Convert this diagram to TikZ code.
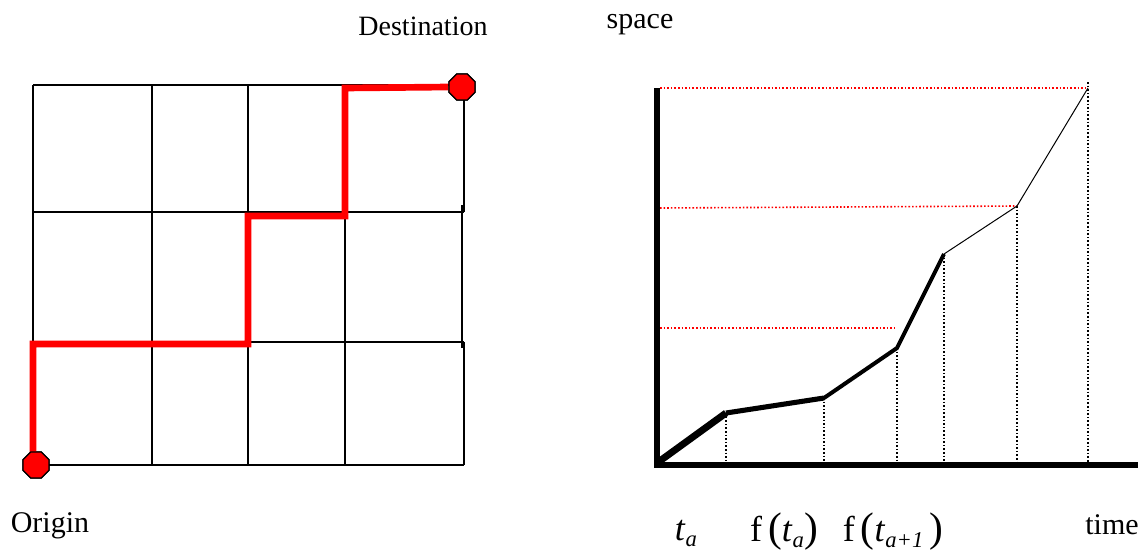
\documentclass[tikz,border=0pt]{standalone}
\usepackage{fontspec}
\setmainfont{Liberation Serif}
\usetikzlibrary{shapes.geometric}
\newcommand{\sublbl}[1]{\raisebox{-0.4ex}{\fontsize{17pt}{19pt}\selectfont\textit{#1}}}
\newcommand{\bigpar}[1]{{\fontsize{31pt}{33pt}\selectfont #1}}
\begin{document}
\begin{tikzpicture}[x=0.75pt,y=-0.75pt,
  gridline/.style={line width=1.5pt,black},
  route/.style={line width=5pt,red},
  stopmark/.style={regular polygon,regular polygon sides=8,minimum size=21pt,inner sep=0pt,fill=red,draw=black,line width=1pt},
  axisline/.style={line width=5.2pt,black},
  guide/.style={line width=1.2pt,black,dash pattern=on 1.2pt off 1.5pt},
  redguide/.style={line width=1.2pt,red,dash pattern=on 1.2pt off 1.5pt},
  lbl/.style={font=\fontsize{22.5pt}{26pt}\selectfont,inner sep=0pt},
  mlbl/.style={font=\fontsize{27pt}{30pt}\selectfont,inner sep=0pt,anchor=base}
]
\useasboundingbox (0,0) rectangle (1146,554);
% grid
\foreach \x in {33,152,248,345} \draw[gridline] (\x,85) -- (\x,465);
\draw[gridline] (464,85) -- (464,212);
\draw[gridline] (462,205) -- (462,348);
\draw[gridline] (464,342) -- (464,465);
\foreach \y in {85,212,342,465} \draw[gridline] (33,\y) -- (464,\y);
% route
\node[stopmark] (orig) at (36,465) {};
\node[stopmark] (dest) at (462,87) {};
\coordinate (r2) at (248,344);
\coordinate (r3) at (248,216);
\coordinate (r4) at (345,216);
\coordinate (r5) at (345,88);
\draw[route,line join=miter] (orig.center) ++(-3,0) |- (r2) -- (r3) -- (r4) -- (r5) -- (dest.west);
\node[stopmark] at (orig) {};
\node[stopmark] at (dest) {};
% labels
\node[lbl,font=\fontsize{21pt}{25pt}\selectfont] (ldest) at (423,26) {Destination};
\node[lbl] (lorig) at (50,526) {Origin};
\node[lbl] (lspace) at (640,25) {space};
\node[lbl] (ltime) at (1112,525) {time};
\node[mlbl] (lta) at (686,540) {\textit{t}\sublbl{a}};
\node[mlbl] (lfta) at (784,541) {f\,\bigpar{(}\textit{t}\sublbl{a}\bigpar{)}};
\node[mlbl] (lftb) at (893,541) {f\,\bigpar{(}\textit{t}\sublbl{a+1}\,\bigpar{)}};
% chart points
\coordinate (o) at (657,463);
\coordinate (p1) at (726,413);
\coordinate (p2) at (824,398);
\coordinate (p3) at (897,348);
\coordinate (p4) at (944,254);
\coordinate (p5) at (1017,206);
\coordinate (p6) at (1088,88);
% guides
\foreach \p in {p1,p2,p3,p4,p5} \draw[guide] (\p) -- (\p |- o);
\draw[guide] (1088,82) -- (1088,463);
\draw[redguide] (660,88) -- (p6);
\draw[redguide] (660,208) -- (p5);
\draw[redguide] (660,328) -- (895,328);
% curve
\draw[line width=5.2pt] (o) -- (p1);
\draw[line width=3.8pt] (p1) -- (p2);
\draw[line width=3pt] (p2) -- (p3) -- (p4);
\draw[line width=0.75pt] (p4) -- (p5) -- (p6);
% axes
\coordinate (ytop) at (657,88);
\coordinate (xend) at (1138,465);
\draw[axisline] (ytop) -- (657,468);
\draw[axisline] (654,465) -- (xend);
\end{tikzpicture}
\end{document}
